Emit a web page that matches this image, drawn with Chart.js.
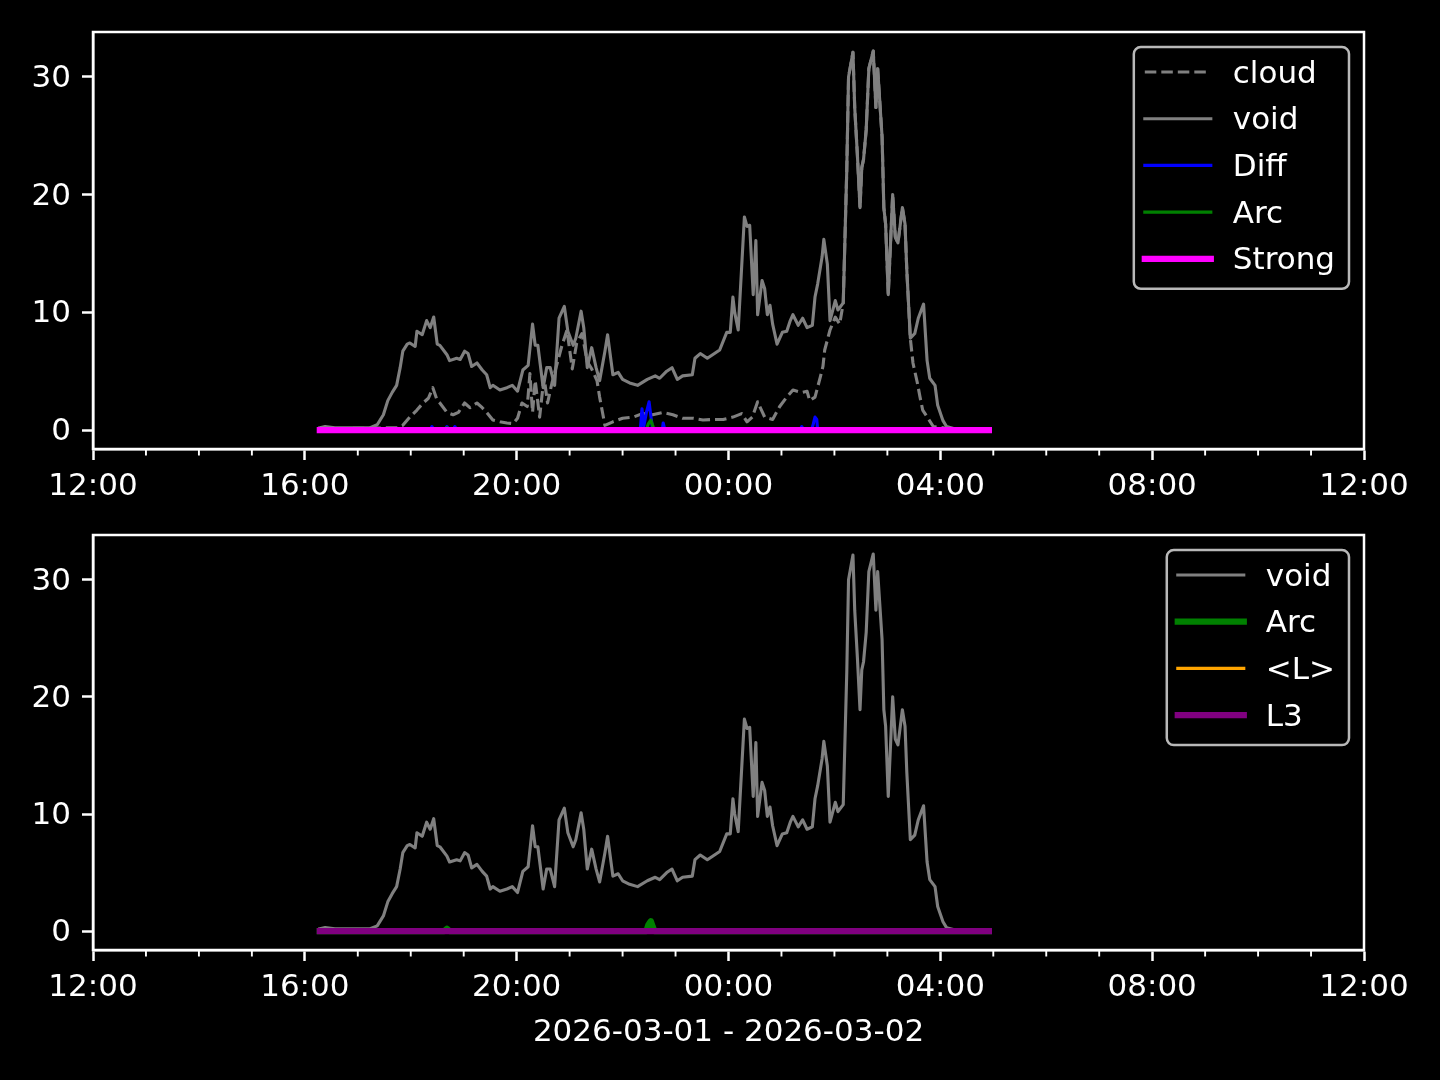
<!DOCTYPE html>
<html>
<head>
<meta charset="utf-8">
<script src="https://cdn.jsdelivr.net/npm/chart.js@4.4.1/dist/chart.umd.min.js"></script>
<style>
html, body { margin: 0; background: #000; }
#wrap { position: relative; width: 1440px; height: 1080px; background: #000; }
canvas { position: absolute; left: 0; }
</style>
</head>
<body>
<div id="wrap">
  <canvas id="topChart" width="1440" height="500" style="top:0px"></canvas>
  <canvas id="bottomChart" width="1440" height="580" style="top:500px"></canvas>
</div>
<script>
// x axis: 12:00 on 2026-03-01 to 12:00 on 2026-03-02, labels every 4 h
const xTickLabels = ['12:00', '16:00', '20:00', '00:00', '04:00', '08:00', '12:00'];
const yTicks = [0, 10, 20, 30];
const dateLabel = '2026-03-01 - 2026-03-02';

// void (solid grey)
const voidTimes = ['16:17','16:23','16:34','17:14','17:22','17:29','17:34','17:39','17:44','17:48','17:51','17:56','17:59','18:05','18:07','18:13','18:18','18:22','18:26','18:30','18:33','18:41','18:44','18:52','18:56','19:01','19:05','19:09','19:15','19:21','19:26','19:30','19:33','19:41','19:49','19:55','20:01','20:07','20:13','20:18','20:21','20:24','20:30','20:34','20:38','20:43','20:48','20:54','20:58','21:04','21:07','21:13','21:16','21:20','21:25','21:30','21:34','21:40','21:43','21:49','21:55','22:00','22:08','22:17','22:28','22:37','22:42','22:50','22:56','23:02','23:08','23:19','23:22','23:28','23:36','23:42','23:50','23:58','00:02','00:05','00:07','00:11','00:18','00:21','00:24','00:28','00:31','00:33','00:38','00:41','00:44','00:47','00:50','00:55','01:01','01:06','01:10','01:13','01:19','01:24','01:29','01:35','01:38','01:41','01:46','01:48','01:52','01:55','02:01','02:04','02:10','02:14','02:16','02:21','02:23','02:26','02:29','02:31','02:33','02:36','02:39','02:44','02:47','02:49','02:54','02:56','02:58','03:01','03:06','03:09','03:12','03:17','03:20','03:22','03:26','03:31','03:35','03:41','03:45','03:48','03:54','03:57','04:03','04:07','04:17','04:55'];
const voidValues = [0.2,0.3,0.2,0.2,0.45,1.3,2.5,3.2,3.8,5.3,6.7,7.3,7.4,7.1,8.4,8.1,9.3,8.7,9.6,7.3,7.2,6.4,5.9,6.1,6.0,6.7,6.5,5.4,5.7,5.1,4.7,3.6,3.8,3.4,3.6,3.8,3.3,5.1,5.5,9.0,7.2,7.2,3.6,5.3,5.3,3.8,9.5,10.5,8.4,7.2,7.8,10.1,8.7,5.3,7.0,5.3,4.2,6.7,8.1,4.7,4.9,4.3,4.0,3.8,4.3,4.6,4.4,5.0,5.3,4.3,4.6,4.7,6.1,6.5,6.1,6.4,6.8,8.3,8.3,11.3,10.0,8.5,18.1,17.3,17.4,11.5,16.1,9.8,12.7,12.0,9.8,10.6,9.0,7.3,8.3,8.4,9.3,9.8,8.9,9.5,8.7,8.9,11.3,12.4,14.7,16.2,14.1,9.3,11.0,10.2,10.8,22.1,30.0,32.1,27.4,23.4,18.9,22.3,23.0,25.5,30.7,32.2,27.4,30.7,24.9,18.9,17.5,11.5,20.0,16.4,15.9,18.9,17.5,13.6,7.8,8.2,9.5,10.7,5.9,4.4,3.8,2.1,0.8,0.3,0.1,0.0];

// cloud (dashed grey)
const cloudTimes = ['16:17','17:45','17:51','17:59','18:07','18:14','18:20','18:25','18:30','18:33','18:41','18:48','18:54','19:01','19:07','19:15','19:21','19:26','19:33','19:41','19:49','19:56','20:01','20:06','20:12','20:15','20:18','20:21','20:26','20:31','20:35','20:40','20:51','20:57','21:03','21:08','21:14','21:20','21:25','21:31','21:34','21:40','21:49','22:00','22:12','22:23','22:34','22:46','22:57','23:08','23:20','23:31','23:42','23:54','00:05','00:15','00:21','00:27','00:33','00:41','00:50','00:58','01:06','01:13','01:23','01:29','01:32','01:38','01:44','01:47','01:49','01:55','02:01','02:06','02:10','02:14','02:16','02:21','02:23','02:26','02:29','02:31','02:33','02:36','02:39','02:44','02:47','02:49','02:54','02:56','02:58','03:01','03:06','03:09','03:12','03:17','03:20','03:22','03:26','03:29','03:34','03:37','03:40','03:46','03:52','04:03','04:17','04:55'];
const cloudValues = [0.1,0.2,0.4,1.1,1.7,2.3,2.7,3.6,2.5,2.3,1.5,1.3,1.5,2.3,1.9,2.3,1.9,1.5,0.85,0.7,0.6,0.55,1.0,2.3,2.0,4.8,1.5,4.2,1.1,4.5,2.3,4.0,7.1,8.5,5.2,7.4,8.2,5.8,5.2,4.2,2.8,0.4,0.7,1.0,1.1,1.4,1.3,1.5,1.3,1.0,1.0,0.85,0.9,0.9,1.1,1.4,0.7,1.1,2.4,1.1,0.9,2.0,2.8,3.4,3.2,3.3,2.5,2.8,4.5,5.4,6.8,8.5,9.6,9.0,10.8,22.1,30.0,32.1,27.4,23.4,18.9,22.3,23.0,25.5,30.7,32.2,27.4,30.7,24.9,18.9,17.5,11.5,20.0,16.4,15.9,18.9,17.5,13.6,7.8,5.7,4.0,2.8,1.7,1.0,0.3,0.2,0.0,0.0];

// Diff (blue)
const diffTimes = ['16:17','18:22','18:24','18:26','18:39','18:41','18:43','18:48','18:50','18:52','22:20','22:22','22:24','22:27','22:30','22:32','22:34','22:45','22:46','22:48','01:21','01:23','01:25','01:34','01:36','01:38','01:40','01:41','04:55'];
const diffValues = [0,0,0.3,0,0,0.3,0,0,0.3,0,0,1.8,0.3,1.5,2.4,1.2,0.1,0,0.6,0,0,0.3,0,0,0.5,1.1,0.9,0,0];

// Arc (green)
const arcTimes = ['16:17','18:38','18:41','18:44','22:27','22:29','22:32','22:34','22:36','04:55'];
const arcValues = [0,0,0.2,0,0,0.5,0.85,0.4,0,0];

// Strong, <L>, L3 stay at zero the whole run
const flatTimes = ['16:17','04:55'];
const strongValues = [0, 0];
const meanLValues = [0, 0];
const l3Values = [0, 0];

const FONT = 'DejaVu Sans';
const FS = 31;

// minutes since 12:00 of the first day
function toMin(t) {
    const [h, m] = t.split(':').map(Number);
    return (h >= 12 ? h - 12 : h + 12) * 60 + m;
}
function pts(times, values) {
    return times.map((t, i) => ({ x: toMin(t), y: values[i] }));
}
function line(label, times, values, color, width, dash) {
    return {
        label: label,
        data: pts(times, values),
        borderColor: color,
        borderWidth: width,
        borderDash: dash || [],
        borderCapStyle: dash ? 'butt' : 'square',
        borderJoinStyle: 'round',
        pointRadius: 0,
        tension: 0,
        fill: false
    };
}

// frame on all four sides + minor ticks (every hour)
const framePlugin = {
    id: 'frame',
    afterDatasetsDraw(chart) {
        const { ctx, chartArea: a } = chart;
        const xs = chart.scales.x;
        ctx.save();
        ctx.strokeStyle = '#fff';
        ctx.lineWidth = 2.5;
        ctx.strokeRect(a.left, a.top, a.right - a.left, a.bottom - a.top);
        ctx.lineWidth = 1.9;
        for (let m = 60; m < 1440; m += 60) {
            if (m % 240 === 0) continue;
            const x = xs.getPixelForValue(m);
            ctx.beginPath();
            ctx.moveTo(x, a.bottom);
            ctx.lineTo(x, a.bottom + 6.5);
            ctx.stroke();
        }
        ctx.restore();
    }
};

// matplotlib style legend box in the upper right
const legendPlugin = {
    id: 'mplLegend',
    afterDraw(chart) {
        const { ctx, chartArea: a } = chart;
        const sets = chart.data.datasets;
        ctx.save();
        ctx.font = FS + 'px "' + FONT + '"';
        let maxW = 0;
        sets.forEach(d => { maxW = Math.max(maxW, ctx.measureText(d.label).width); });
        const step = 46.7;
        const w = 11 + 66 + 22 + maxW + 14;
        const h = 25 + (sets.length - 1) * step + 30;
        const right = a.right - 15, top = a.top + 15;
        const left = right - w;
        ctx.beginPath();
        ctx.roundRect(left, top, w, h, 7);
        ctx.fillStyle = 'rgba(0,0,0,0.8)';
        ctx.fill();
        ctx.strokeStyle = 'rgba(255,255,255,0.72)';
        ctx.lineWidth = 2.5;
        ctx.stroke();
        sets.forEach((d, i) => {
            const y = top + 25 + i * step;
            ctx.beginPath();
            ctx.strokeStyle = d.borderColor;
            ctx.lineWidth = d.borderWidth;
            ctx.setLineDash(d.borderDash);
            ctx.lineCap = d.borderDash.length ? 'butt' : 'square';
            ctx.moveTo(left + 11, y);
            ctx.lineTo(left + 77, y);
            ctx.stroke();
            ctx.setLineDash([]);
            ctx.fillStyle = '#fff';
            ctx.textBaseline = 'alphabetic';
            ctx.textAlign = 'left';
            ctx.fillText(d.label, left + 99, y + 10.5);
        });
        ctx.restore();
    }
};

function makeOptions(padTop, xHeight, withTitle) {
    return {
        responsive: false,
        animation: false,
        events: [],
        layout: { padding: { top: padTop, right: 76, left: 0, bottom: 0 } },
        plugins: { legend: { display: false }, tooltip: { enabled: false } },
        scales: {
            x: {
                type: 'linear',
                min: 0,
                max: 1440,
                afterBuildTicks: s => { s.ticks = xTickLabels.map((t, i) => ({ value: i * 240 })); },
                afterFit: s => { s.height = xHeight; },
                ticks: {
                    color: '#fff',
                    font: { family: FONT, size: FS },
                    padding: 8,
                    maxRotation: 0,
                    autoSkip: false,
                    callback: (v, i) => xTickLabels[i]
                },
                grid: { drawOnChartArea: false, tickLength: 11, tickWidth: 2.5, tickColor: '#fff' },
                border: { color: '#fff', width: 2.5 },
                title: {
                    display: withTitle,
                    text: dateLabel,
                    color: '#fff',
                    font: { family: FONT, size: FS },
                    padding: { top: 0, bottom: 28 }
                }
            },
            y: {
                min: -1.61,
                max: 33.82,
                afterBuildTicks: s => { s.ticks = yTicks.map(v => ({ value: v })); },
                afterFit: s => { s.width = 93; },
                ticks: { color: '#fff', font: { family: FONT, size: FS }, padding: 11, labelOffset: 2 },
                grid: { drawOnChartArea: false, tickLength: 11, tickWidth: 2.5, tickColor: '#fff' },
                border: { color: '#fff', width: 2.5 }
            }
        }
    };
}

// later datasets go on top (matplotlib order), so give them a lower "order"
function stack(sets) {
    sets.forEach((d, i) => { d.order = sets.length - i; });
    return sets;
}

const topSets = stack([
    line('cloud', cloudTimes, cloudValues, '#808080', 3.1, [11.5, 5]),
    line('void', voidTimes, voidValues, '#808080', 3.1),
    line('Diff', diffTimes, diffValues, '#0000ff', 3.1),
    line('Arc', arcTimes, arcValues, '#008000', 3.1),
    line('Strong', flatTimes, strongValues, '#ff00ff', 6.25)
]);

const bottomSets = stack([
    line('void', voidTimes, voidValues, '#808080', 3.1),
    line('Arc', arcTimes, arcValues, '#008000', 6.25),
    line('<L>', flatTimes, meanLValues, '#ffa500', 3.1),
    line('L3', flatTimes, l3Values, '#800080', 6.25)
]);

new Chart(document.getElementById('topChart'), {
    type: 'line',
    data: { datasets: topSets },
    options: makeOptions(32, 51, false),
    plugins: [framePlugin, legendPlugin]
});

new Chart(document.getElementById('bottomChart'), {
    type: 'line',
    data: { datasets: bottomSets },
    options: makeOptions(35, 130, true),
    plugins: [framePlugin, legendPlugin]
});
</script>
</body>
</html>
